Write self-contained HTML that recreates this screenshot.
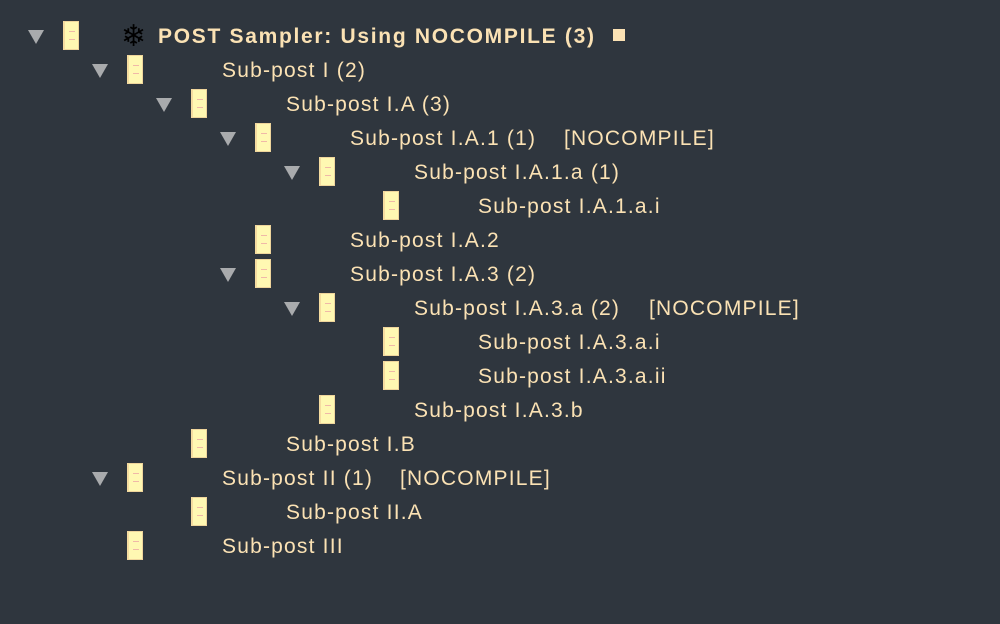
<!DOCTYPE html>
<html><head><style>
body{margin:0;width:1000px;height:624px;background:#2f363e;overflow:hidden;font-family:"Liberation Sans",sans-serif;position:relative}
.r{position:absolute;left:0;height:34px;width:1000px}
.t{position:absolute;top:11px;width:0;height:0;border-left:8px solid transparent;border-right:8px solid transparent;border-top:14px solid #a9abad}
.i{position:absolute;top:2px;width:13px;height:27px;background:#fff8b2;border:1px solid #efd59c;border-left:2px solid #f5dca0}
.i:after{content:"";position:absolute;left:4px;top:9px;width:6px;height:7px;border-top:1px solid #f0b8a8;border-bottom:1px solid #f0b8a8}
.x{position:absolute;top:6px;font-size:21px;letter-spacing:1.2px;color:#fbe2b4;white-space:nowrap}
.b{font-weight:bold;letter-spacing:1.7px}
</style></head><body>
<div class="r" style="top:19px"><div class="t" style="left:28px"></div><div class="i" style="left:63px"></div><div class="x" style="left:121px;top:0;font-size:30px;color:#000;letter-spacing:0">❄</div><div class="x b" style="left:158px">POST Sampler: Using NOCOMPILE (3)</div><div style="position:absolute;left:613px;top:10px;width:12px;height:12px;background:#fbe2b4"></div></div>
<div class="r" style="top:53px"><div class="t" style="left:92px"></div><div class="i" style="left:127px"></div><div class="x" style="left:222px">Sub-post I (2)</div></div>
<div class="r" style="top:87px"><div class="t" style="left:156px"></div><div class="i" style="left:191px"></div><div class="x" style="left:286px">Sub-post I.A (3)</div></div>
<div class="r" style="top:121px"><div class="t" style="left:220px"></div><div class="i" style="left:255px"></div><div class="x" style="left:350px">Sub-post I.A.1 (1)</div><div class="x" style="left:564px">[NOCOMPILE]</div></div>
<div class="r" style="top:155px"><div class="t" style="left:284px"></div><div class="i" style="left:319px"></div><div class="x" style="left:414px">Sub-post I.A.1.a (1)</div></div>
<div class="r" style="top:189px"><div class="i" style="left:383px"></div><div class="x" style="left:478px">Sub-post I.A.1.a.i</div></div>
<div class="r" style="top:223px"><div class="i" style="left:255px"></div><div class="x" style="left:350px">Sub-post I.A.2</div></div>
<div class="r" style="top:257px"><div class="t" style="left:220px"></div><div class="i" style="left:255px"></div><div class="x" style="left:350px">Sub-post I.A.3 (2)</div></div>
<div class="r" style="top:291px"><div class="t" style="left:284px"></div><div class="i" style="left:319px"></div><div class="x" style="left:414px">Sub-post I.A.3.a (2)</div><div class="x" style="left:649px">[NOCOMPILE]</div></div>
<div class="r" style="top:325px"><div class="i" style="left:383px"></div><div class="x" style="left:478px">Sub-post I.A.3.a.i</div></div>
<div class="r" style="top:359px"><div class="i" style="left:383px"></div><div class="x" style="left:478px">Sub-post I.A.3.a.ii</div></div>
<div class="r" style="top:393px"><div class="i" style="left:319px"></div><div class="x" style="left:414px">Sub-post I.A.3.b</div></div>
<div class="r" style="top:427px"><div class="i" style="left:191px"></div><div class="x" style="left:286px">Sub-post I.B</div></div>
<div class="r" style="top:461px"><div class="t" style="left:92px"></div><div class="i" style="left:127px"></div><div class="x" style="left:222px">Sub-post II (1)</div><div class="x" style="left:400px">[NOCOMPILE]</div></div>
<div class="r" style="top:495px"><div class="i" style="left:191px"></div><div class="x" style="left:286px">Sub-post II.A</div></div>
<div class="r" style="top:529px"><div class="i" style="left:127px"></div><div class="x" style="left:222px">Sub-post III</div></div>
</body></html>
